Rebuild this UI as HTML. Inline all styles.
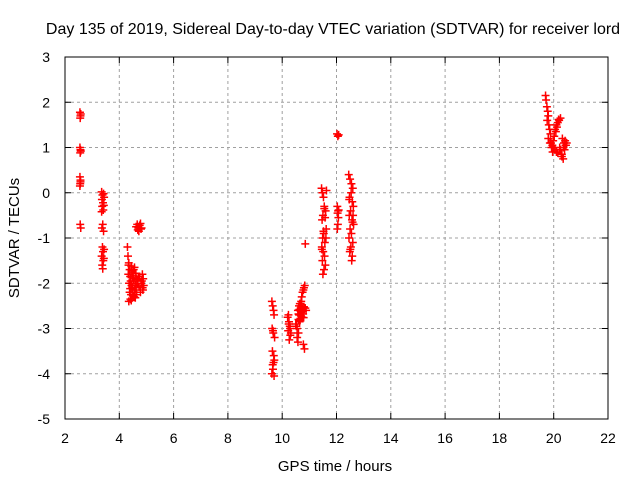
<!DOCTYPE html>
<html><head><meta charset="utf-8"><style>
body{margin:0;background:#fff;}
svg{display:block;font-family:"Liberation Sans",sans-serif;}
</style></head><body>
<svg id="chart" width="640" height="480" viewBox="0 0 640 480">
<text x="333" y="34" font-size="16" text-anchor="middle">Day 135 of 2019, Sidereal Day-to-day VTEC variation (SDTVAR) for receiver lord</text>
<g id="grid"></g>
<rect x="65" y="57" width="543" height="362" fill="none" stroke="#000" stroke-width="1"/>
<g id="ticks"></g>
<g id="marks"></g>
<text x="335" y="471" font-size="15" text-anchor="middle">GPS time / hours</text>
<text transform="translate(19,238) rotate(-90)" font-size="15" text-anchor="middle">SDTVAR / TECUs</text>
</svg>
<script>
const xTicks=[2,4,6,8,10,12,14,16,18,20,22];
const yTicks=[3,2,1,0,-1,-2,-3,-4,-5];
const xs=[2.55,2.57,2.56,2.58,2.55,2.57,2.56,2.58,2.55,2.57,2.56,2.55,2.57,2.56,2.58,
3.35,3.38,3.42,3.36,3.40,3.44,3.37,3.41,3.35,3.43,3.39,3.36,3.42,3.38,3.40,3.44,3.35,3.41,3.37,3.43,3.39,
4.30,4.32,4.35,4.38,4.33,4.40,4.42,4.36,4.45,4.48,4.50,4.38,4.43,4.55,4.60,4.52,4.47,4.41,4.56,4.62,4.35,4.58,4.65,4.70,4.50,4.44,4.53,4.68,4.39,4.61,4.57,4.49,
4.62,4.66,4.70,4.75,4.80,4.72,4.78,4.68,4.82,4.85,4.88,4.80,4.86,4.83,4.78,4.90,4.75,4.87,
4.34,4.46,4.54,4.64,4.40,4.51,4.59,4.67,4.73,4.44,
9.62,9.65,9.68,9.70,9.63,9.67,9.72,9.66,9.64,9.69,9.71,9.65,9.68,9.62,9.70,9.66,
10.20,10.25,10.28,10.22,10.30,10.26,10.23,10.29,10.32,10.24,
10.50,10.55,10.60,10.58,10.62,10.65,10.68,10.70,10.72,10.75,10.78,10.80,10.83,10.66,10.60,10.70,10.55,10.74,10.64,10.58,10.78,10.82,10.85,10.88,10.68,10.62,10.73,10.77,10.52,10.67,10.85,
10.63,10.69,10.76,10.80,10.66,10.72,10.60,10.79,
11.45,11.48,11.52,11.55,11.60,11.50,11.47,11.58,11.62,11.53,11.49,11.57,11.46,11.61,11.51,11.56,11.48,11.59,11.54,11.50,11.63,11.46,11.55,11.52,
12.02,12.05,12.08,12.03,12.06,12.04,12.07,12.05,12.03,12.08,
12.45,12.50,12.55,12.60,12.48,12.58,12.62,12.52,12.47,12.57,12.63,12.50,12.55,12.46,12.60,12.53,12.49,12.58,12.56,12.51,12.61,12.47,12.54,12.59,
19.70,19.72,19.75,19.78,19.80,19.76,19.82,19.85,19.88,19.80,19.90,19.95,20.00,20.05,20.10,19.98,20.02,20.08,20.12,20.15,20.20,20.25,20.18,20.10,20.05,20.22,20.28,20.30,20.35,20.40,20.45,20.38,20.32,20.42,20.25,19.92,19.86,19.96,20.15,20.30,20.36,20.48,20.44];
const ys=[1.78,1.70,1.65,1.74,1.00,0.95,0.88,0.92,0.35,0.28,0.20,0.15,0.24,-0.70,-0.78,
0.02,-0.05,-0.02,-0.15,-0.22,-0.10,-0.30,-0.38,-0.42,-0.28,-0.70,-0.78,-0.85,-1.20,-1.30,-1.25,-1.40,-1.50,-1.60,-1.45,-1.68,
-1.20,-1.40,-1.55,-1.70,-1.80,-1.85,-1.95,-2.00,-2.05,-2.10,-2.15,-2.20,-2.25,-2.30,-2.05,-1.90,-1.75,-2.35,-1.65,-2.10,-2.40,-2.20,-1.95,-1.85,-2.28,-1.62,-1.70,-2.00,-2.00,-1.78,-2.15,-1.88,
-0.75,-0.70,-0.78,-0.72,-0.80,-0.85,-0.68,-0.82,-0.78,-1.80,-1.90,-2.00,-2.10,-1.95,-2.20,-2.05,-1.85,-2.15,
-1.60,-1.72,-1.95,-2.25,-2.12,-1.82,-2.32,-1.92,-2.08,-2.38,
-2.40,-2.50,-2.60,-2.70,-3.00,-3.10,-3.20,-3.05,-3.50,-3.60,-3.70,-3.80,-3.75,-4.00,-4.05,-3.90,
-2.75,-2.85,-2.95,-3.05,-3.15,-3.25,-2.70,-3.00,-3.10,-2.90,
-2.90,-3.00,-2.80,-2.60,-2.50,-2.45,-2.55,-2.40,-2.30,-2.20,-2.15,-2.10,-2.05,-2.70,-3.10,-2.65,-3.20,-2.75,-2.85,-3.30,-3.35,-3.45,-2.55,-2.60,-2.62,-2.70,-2.58,-2.68,-2.95,-2.78,-1.13,
-2.58,-2.72,-2.62,-2.52,-2.82,-2.48,-2.68,-2.76,
0.10,0.00,-0.10,-0.30,-0.40,-0.50,-0.60,-0.55,-0.80,-0.90,-1.00,-1.10,-1.20,-1.00,-1.30,-1.40,-1.50,-1.60,-1.70,-1.80,0.05,-1.25,-0.35,-0.85,
1.30,1.25,1.28,-0.30,-0.40,-0.45,-0.55,-0.70,-0.80,-0.38,
0.40,0.30,0.20,0.10,-0.10,-0.20,-0.30,-0.40,-0.50,-0.60,-0.70,-0.80,-0.90,-1.00,-1.10,-1.20,-1.30,-1.40,-1.50,-1.25,-0.50,-0.15,0.00,-0.65,
2.15,2.05,1.90,1.80,1.70,1.60,1.50,1.40,1.30,1.20,1.10,1.05,1.00,0.95,0.90,1.15,1.25,1.35,1.45,1.55,1.60,1.65,1.62,1.50,1.40,1.00,0.85,0.80,0.75,0.95,1.05,1.10,1.20,1.15,0.95,1.00,1.10,0.90,0.88,0.85,1.00,1.10,1.05];
const NS='http://www.w3.org/2000/svg';
const X0=65,X1=608,Y0=57,Y1=419;
function sx(v){return X0+(v-2)/20*(X1-X0);}
function sy(v){return Y0+(3-v)/8*(Y1-Y0);}
const grid=document.getElementById('grid'),ticks=document.getElementById('ticks'),marks=document.getElementById('marks');
function mk(tag,attrs,parent){const e=document.createElementNS(NS,tag);for(const k in attrs)e.setAttribute(k,attrs[k]);parent.appendChild(e);return e;}
xTicks.forEach(v=>{const x=sx(v);
 if(v>2&&v<22){const g=mk('line',{x1:x,x2:x,y1:Y0,y2:Y1,stroke:'#a0a0a0','stroke-dasharray':'3,3'},grid);
 
 }
 mk('line',{x1:x,x2:x,y1:Y1,y2:Y1-6,stroke:'#000'},ticks);
 mk('line',{x1:x,x2:x,y1:Y0,y2:Y0+6,stroke:'#000'},ticks);
 const t=mk('text',{x:x,y:Y1+24,'font-size':14,'text-anchor':'middle'},ticks);t.textContent=v;
 
 
});
yTicks.forEach(v=>{const y=sy(v);
 if(v<3&&v>-5){const g=mk('line',{x1:X0,x2:X1,y1:y,y2:y,stroke:'#a0a0a0','stroke-dasharray':'3,3'},grid);
 
 }
 mk('line',{x1:X0,x2:X0+6,y1:y,y2:y,stroke:'#000'},ticks);
 mk('line',{x1:X1,x2:X1-6,y1:y,y2:y,stroke:'#000'},ticks);
 const t=mk('text',{x:X0-15,y:y+5,'font-size':14,'text-anchor':'end'},ticks);t.textContent=v;
 
 
});
xs.forEach((xv,i)=>{const x=sx(xv),y=sy(ys[i]);
 const p=mk('path',{d:`M${x-4},${y}H${x+4}M${x},${y-4}V${y+4}`,stroke:'#f00','stroke-width':1.5,fill:'none'},marks);
 
 
});
</script>
</body></html>
